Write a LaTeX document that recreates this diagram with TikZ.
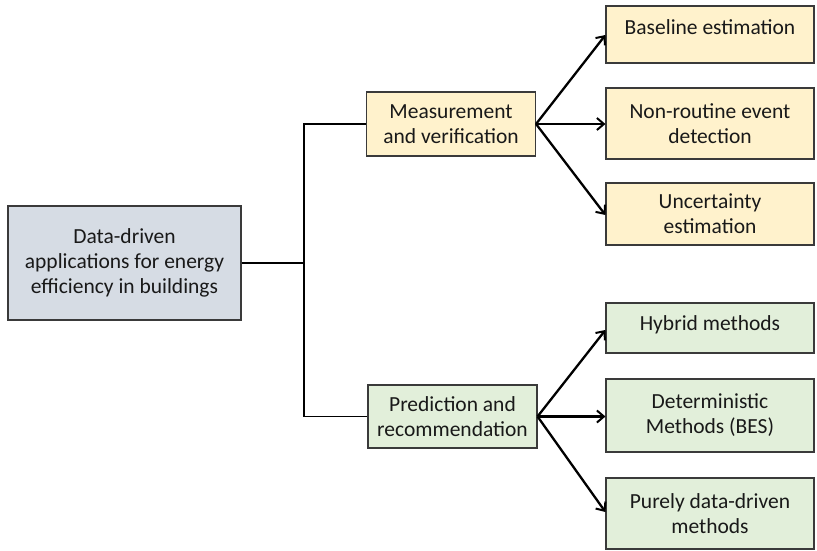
\documentclass[tikz,border=0pt]{standalone}
\usepackage{fontspec}
\setmainfont{Carlito}
\usetikzlibrary{arrows.meta}
\definecolor{mainfill}{HTML}{D6DCE4}
\definecolor{yelfill}{HTML}{FFF2CC}
\definecolor{grnfill}{HTML}{E2EFDA}
\definecolor{boxline}{HTML}{3A3A3A}
\tikzset{
  box/.style={draw=boxline, line width=1.1pt, align=center, inner sep=2pt,
    font=\fontsize{21.5}{25}\selectfont, text=black!90},
  mainbox/.style={box, fill=mainfill, minimum width=233pt, minimum height=114pt},
  ybox/.style={box, fill=yelfill},
  gbox/.style={box, fill=grnfill},
  link/.style={draw=black, line width=1.1pt},
  arr/.style={draw=black, line width=2.3pt, -{Straight Barb[length=7pt,width=12pt,line width=2pt]}}
}
\begin{document}
\begin{tikzpicture}[x=1pt,y=-1pt]
\useasboundingbox (0,0) rectangle (817,550);
\node[mainbox] (main) at (124.5,263) {Data-driven\\applications for energy\\efficiency in buildings};
\node[ybox, minimum width=169pt, minimum height=64pt] (mv) at (451,124) {Measurement\\and verification};
\node[gbox, minimum width=169pt, minimum height=63pt] (pr) at (452.5,416.5) {Prediction and\\recommendation};
\node[ybox, minimum width=208pt, minimum height=57pt, text depth=14pt] (base) at (710,34.5) {Baseline estimation};
\node[ybox, minimum width=208pt, minimum height=71pt] (nre) at (710,123.5) {Non-routine event\\detection};
\node[ybox, minimum width=208pt, minimum height=62pt] (unc) at (710,214) {Uncertainty\\estimation};
\node[gbox, minimum width=208pt, minimum height=50pt, text depth=10pt] (hyb) at (710,328) {Hybrid methods};
\node[gbox, minimum width=208pt, minimum height=73pt] (det) at (710,415.5) {Deterministic\\Methods (BES)};
\node[gbox, minimum width=208pt, minimum height=71pt] (pur) at (710,513.5) {Purely data-driven\\methods};
\coordinate (jn) at (304,263);
\draw[link] (main.east) -- (jn);
\draw[link] (mv.west) -| (jn);
\draw[link] (pr.west) -| (jn);
\draw[arr] (mv.east) -- (base.west |- 0,35);
\draw[arr] (mv.east) -- (nre.west |- mv.east);
\draw[arr] (mv.east) -- (unc.west |- 0,215);
\draw[arr] (pr.east) -- (hyb.west |- 0,330);
\draw[arr] (pr.east) -- (det.west |- pr.east);
\draw[arr] (pr.east) -- (pur.west |- 0,512);
\end{tikzpicture}
\end{document}
